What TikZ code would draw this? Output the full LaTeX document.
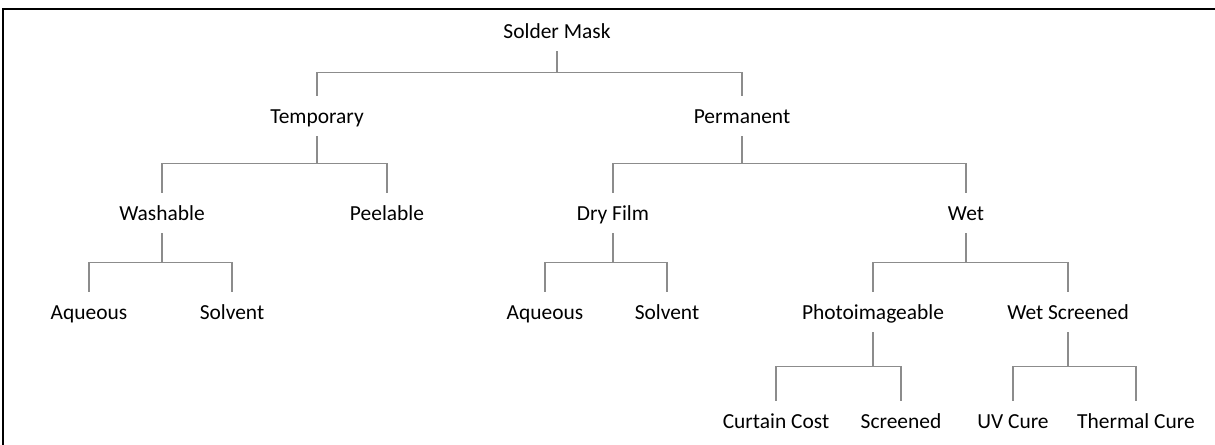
\documentclass[tikz,border=0pt]{standalone}
\usepackage{fontspec}
\setmainfont{Carlito}

\tikzstyle{item} = [rectangle, minimum height=0.8cm, inner sep=0pt, text height=9.7pt, text depth=1.5pt, font=\fontsize{12.2}{14}\selectfont]
\tikzstyle{link} = [draw=black!45, line width=0.6pt]
\tikzstyle{frame} = [line width=1.4pt]

\begin{document}
\begin{tikzpicture}[x=0.02cm, y=-0.02cm]
    \useasboundingbox (0,0) rectangle (1215,445);
    \draw [frame] (1215,9) -- (3,9) -- (3,445);
    \node (sm) [item] at (557,31) {Solder Mask};
    \node (tmp) [item] at (317,116) {Temporary};
    \node (perm) [item] at (742,116) {Permanent};
    \node (wash) [item] at (162,213) {Washable};
    \node (peel) [item] at (387,213) {Peelable};
    \node (dry) [item] at (613,213) {Dry Film};
    \node (wet) [item] at (966,213) {Wet};
    \node (aq1) [item] at (89,312) {Aqueous};
    \node (sol1) [item] at (232,312) {Solvent};
    \node (aq2) [item] at (545,312) {Aqueous};
    \node (sol2) [item] at (667,312) {Solvent};
    \node (photo) [item] at (873,312) {Photoimageable};
    \node (wscr) [item] at (1068,312) {Wet Screened};
    \node (curt) [item] at (776,421) {Curtain Cost};
    \node (scr) [item] at (901,421) {Screened};
    \node (uv) [item] at (1013,421) {UV Cure};
    \node (therm) [item] at (1136,421) {Thermal Cure};
    \draw [link] (sm.south) -- ++(0,21) -| (tmp.north);
    \draw [link] (sm.south) -- ++(0,21) -| (perm.north);
    \draw [link] (tmp.south) -- ++(0,27) -| (wash.north);
    \draw [link] (tmp.south) -- ++(0,27) -| (peel.north);
    \draw [link] (perm.south) -- ++(0,27) -| (dry.north);
    \draw [link] (perm.south) -- ++(0,27) -| (wet.north);
    \draw [link] (wash.south) -- ++(0,29) -| (aq1.north);
    \draw [link] (wash.south) -- ++(0,29) -| (sol1.north);
    \draw [link] (dry.south) -- ++(0,29) -| (aq2.north);
    \draw [link] (dry.south) -- ++(0,29) -| (sol2.north);
    \draw [link] (wet.south) -- ++(0,29) -| (photo.north);
    \draw [link] (wet.south) -- ++(0,29) -| (wscr.north);
    \draw [link] (photo.south) -- ++(0,34) -| (curt.north);
    \draw [link] (photo.south) -- ++(0,34) -| (scr.north);
    \draw [link] (wscr.south) -- ++(0,34) -| (uv.north);
    \draw [link] (wscr.south) -- ++(0,34) -| (therm.north);
\end{tikzpicture}
\end{document}
